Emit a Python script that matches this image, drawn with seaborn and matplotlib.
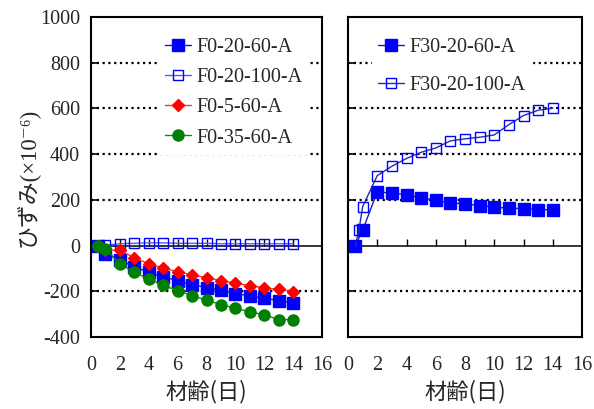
import numpy as np
import pandas as pd
import matplotlib
matplotlib.use("Agg")
import matplotlib.pyplot as plt
import seaborn as sns

# ---------------- data ----------------
days_left = [0.5, 1, 2, 3, 4, 5, 6, 7, 8, 9, 10, 11, 12, 13, 14]
f0_20_60 = [0, -37, -64, -93, -117, -137, -153, -171, -184, -195, -210, -220, -230, -241, -251]
f0_20_100 = [0, 2, 8, 10, 12, 12, 10, 10, 10, 8, 8, 8, 8, 8, 8]
f0_5_60 = [0, -20, -20, -54, -79, -98, -114, -128, -141, -153, -165, -175, -185, -192, -201]
f0_35_60 = [-3, -13, -80, -117, -146, -174, -197, -219, -239, -258, -274, -290, -303, -324, -324]

days_f30_60 = [0.5, 1, 2, 3, 4, 5, 6, 7, 8, 9, 10, 11, 12, 13, 14]
f30_20_60 = [0, 67, 235, 230, 222, 209, 198, 187, 182, 175, 169, 163, 162, 157, 157]
days_f30_100 = [0.5, 0.75, 1, 2, 3, 4, 5, 6, 7, 8, 9, 10, 11, 12, 13, 14]
f30_20_100 = [0, 68, 170, 306, 347, 381, 408, 427, 458, 467, 474, 484, 529, 569, 592, 601]

x_ticks = [0, 2, 4, 6, 8, 10, 12, 14, 16]
y_ticks = [-400, -200, 0, 200, 400, 600, 800, 1000]
x_label = "材齢(日)"
y_label = "ひずみ(×10⁻⁶)"

# ---------------- style ----------------
sns.set_theme(style="white")
plt.rcParams["font.family"] = ["Liberation Serif", "Noto Sans CJK JP", "DejaVu Serif"]
plt.rcParams["axes.unicode_minus"] = False

fig = plt.figure(figsize=(5.94, 4.09), dpi=100)
ax1 = fig.add_axes([91 / 594, 1 - 337 / 409, 231 / 594, 320 / 409])
ax2 = fig.add_axes([348 / 594, 1 - 337 / 409, 234 / 594, 320 / 409])

series_left = [
    (days_left, f0_20_60, "F0-20-60-A", "s", "#0000ff", "#0000ff", "#1a1aa8", 8),
    (days_left, f0_20_100, "F0-20-100-A", "s", "none", "#0000ff", "#5a5aff", 7.5),
    (days_left, f0_5_60, "F0-5-60-A", "D", "#ff0000", "#ff0000", "#ff3030", 6.5),
    (days_left, f0_35_60, "F0-35-60-A", "o", "#008000", "#008000", "#1a801a", 8),
]
series_right = [
    (days_f30_60, f30_20_60, "F30-20-60-A", "s", "#0000ff", "#0000ff", "#1a1aa8", 8),
    (days_f30_100, f30_20_100, "F30-20-100-A", "s", "none", "#0000ff", "#2a2ab0", 7.5),
]

TICK_FS = 14.5
for ax, series in ((ax1, series_left), (ax2, series_right)):
    for x, y, lab, mk, mfc, mec, lc, ms in series:
        df = pd.DataFrame({"x": x, "y": y})
        sns.lineplot(data=df, x="x", y="y", ax=ax, color=lc, lw=1.0,
                     marker=mk, markersize=ms, markerfacecolor=mfc,
                     markeredgecolor=mec, markeredgewidth=1.0,
                     label=lab, sort=False, estimator=None, zorder=3)

    ax.set_xlim(0, 16)
    ax.set_ylim(-400, 1000)
    ax.set_xticks(x_ticks)
    ax.set_yticks(y_ticks)
    ax.set_xlabel(x_label, family=["Noto Sans CJK JP"], fontsize=16)
    ax.set_ylabel("")
    for sp in ax.spines.values():
        sp.set_visible(True)
        sp.set_color("black")
        sp.set_linewidth(1.5)
    for v in y_ticks:
        if v not in (-400, 0, 1000):
            ax.axhline(v, color="black", lw=1.6, ls=(0, (1, 1.6)), zorder=1)
    ax.axhline(0, color="black", lw=1.1, zorder=2)
    ax.tick_params(axis="x", bottom=True, length=0, pad=14)
    ax.tick_params(axis="y", left=True, direction="in", length=4, width=1.2,
                   color="black", pad=8)
    for lbl in ax.get_xticklabels() + ax.get_yticklabels():
        lbl.set_fontsize(TICK_FS)
    sec = ax.secondary_xaxis(2 / 7)
    sec.set_xticks(x_ticks[1:-1])
    sec.tick_params(direction="in", length=5, width=1.0, labelbottom=False,
                    color="black")
    sec.spines["bottom"].set_visible(False)
    ax.xaxis.labelpad = 3

ax2.tick_params(axis="y", labelleft=False)
ax1.set_ylabel(y_label, fontsize=16.5)
ax1.yaxis.set_label_coords(-0.225, 0.5)

leg1 = ax1.legend(loc="upper left", bbox_to_anchor=(0.25, 0.985), fontsize=14.5,
                  frameon=True, framealpha=1, edgecolor="white", fancybox=False,
                  handlelength=1.3, handletextpad=0.25, labelspacing=0.55,
                  borderpad=0.3)
leg2 = ax2.legend(loc="upper left", bbox_to_anchor=(0.06, 0.985), fontsize=14.5,
                  frameon=True, framealpha=1, edgecolor="white", fancybox=False,
                  handlelength=1.3, handletextpad=0.25, labelspacing=0.95,
                  borderpad=0.3)
for leg in (leg1, leg2):
    leg.set_zorder(5)

fig.savefig("out.png", dpi=100, facecolor="white")
